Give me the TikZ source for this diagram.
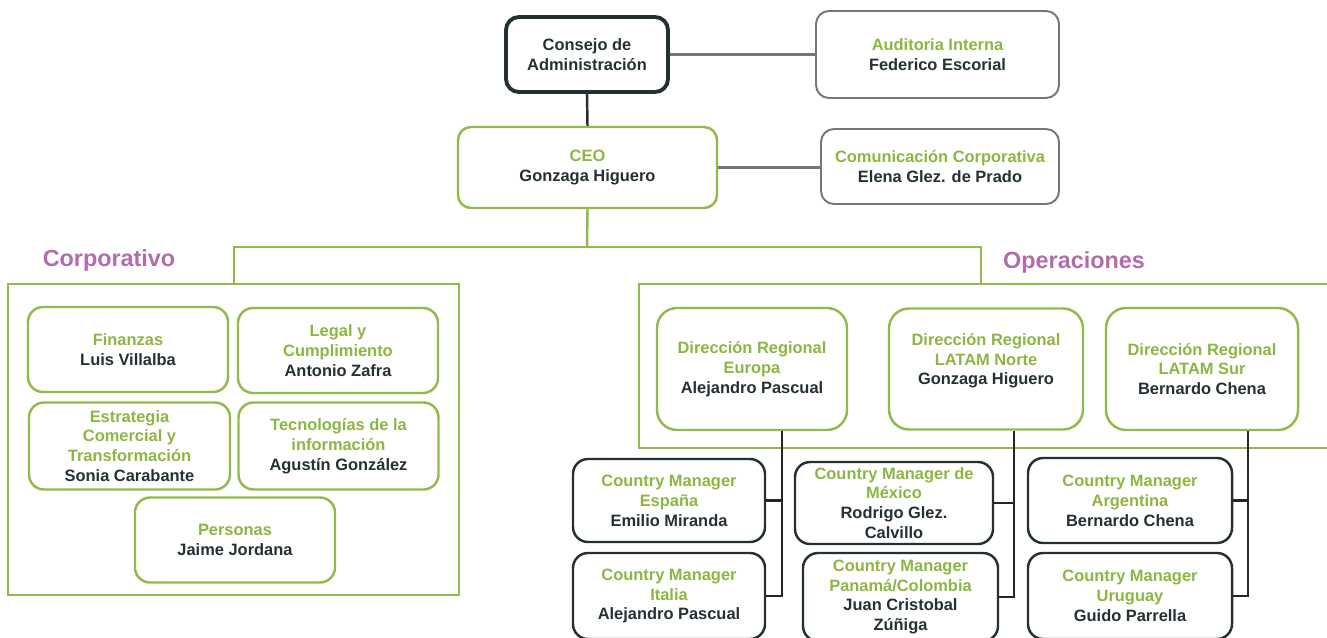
\documentclass[tikz,border=0pt]{standalone}
\usepackage{fontspec}
\setmainfont{Liberation Sans}
\usepackage{tikz}
\definecolor{ogreen}{RGB}{141,181,66}
\definecolor{oframe}{RGB}{146,186,74}
\definecolor{odark}{RGB}{36,48,52}
\definecolor{ogray}{RGB}{112,120,120}
\definecolor{opurple}{RGB}{178,108,170}
\newcommand{\ttl}[1]{\textcolor{ogreen}{#1}}

\begin{document}
\begin{tikzpicture}[x=0.2mm,y=-0.2mm,
  box/.style={rounded corners=2.6mm,align=center,text=odark,inner sep=0pt,
    font=\bfseries\fontsize{9.35}{11.3}\selectfont},
  boardbox/.style={box,draw=odark,line width=2.2pt},
  graybox/.style={box,draw=ogray,line width=1.1pt},
  greenbox/.style={box,draw=oframe,line width=1.4pt,rounded corners=3mm},
  regionbox/.style={box,draw=oframe,line width=1.4pt,rounded corners=4mm,
    minimum width=38.4mm,minimum height=24.4mm},
  countrybox/.style={box,draw=odark,line width=1.4pt,rounded corners=3mm},
  grouplabel/.style={text=opurple,font=\bfseries\fontsize{13.3}{16}\selectfont},
  frame/.style={draw=oframe,line width=1.6pt},
  greenline/.style={draw=oframe,line width=1.4pt},
  grayline/.style={draw=ogray,line width=1.2pt},
  darkline/.style={draw=odark,line width=1.4pt},
  blackline/.style={draw=black!85,line width=1.2pt}]
\clip (0,0) rectangle (1327,637);

% cabecera
\node[boardbox,minimum width=32.4mm,minimum height=15mm] (consejo) at (587,54.5) {Consejo de\\Administración};
\node[graybox,minimum width=48.6mm,minimum height=17.4mm] (auditoria) at (937.5,54.5) {\ttl{Auditoria Interna}\\Federico Escorial};
\node[greenbox,rounded corners=2.6mm,minimum width=51.8mm,minimum height=16.2mm] (ceo) at (587.5,167.5) {\ttl{CEO}\\Gonzaga Higuero};
\node[graybox,minimum width=47.6mm,minimum height=15mm] (comunicacion) at (940,166.5) {\ttl{Comunicación Corporativa}\\Elena Glez. de Prado};
\draw[grayline] (consejo.east) -- (auditoria.west);
\draw[grayline] (ceo.east) -- (ceo.east -| comunicacion.west);
\draw[darkline] (consejo.south) -- (ceo.north);

% areas
\draw[frame] (8,284) rectangle (459,595);
\draw[frame] (639,284) rectangle (1345,448);
\coordinate (split) at (587,247);
\coordinate (corptop) at (234,284);
\coordinate (optop) at (981,284);
\draw[greenline] (ceo.south) -- (split);
\draw[greenline] (corptop) |- (split) -| (optop);
\node[grouplabel] (corplabel) at (109,260) {Corporativo};
\node[grouplabel] (oplabel) at (1074,262) {Operaciones};

% corporativo
\node[greenbox,minimum width=40mm,minimum height=17mm] (finanzas) at (128,349.5) {\ttl{Finanzas}\\Luis Villalba};
\node[greenbox,minimum width=40mm,minimum height=17mm] (legal) at (338,350.5) {\ttl{Legal y}\\\ttl{Cumplimiento}\\Antonio Zafra};
\node[greenbox,minimum width=40.2mm,minimum height=17.4mm] (estrategia) at (129.5,446) {\ttl{Estrategia}\\\ttl{Comercial y}\\\ttl{Transformación}\\Sonia Carabante};
\node[greenbox,minimum width=40mm,minimum height=17.4mm] (tecnologias) at (338.5,446) {\ttl{Tecnologías de la}\\\ttl{información}\\Agustín González};
\node[greenbox,minimum width=40mm,minimum height=17mm] (personas) at (235,540) {\ttl{Personas}\\Jaime Jordana};

% operaciones
\node[regionbox,minimum width=38mm] (europa) at (752,369) {\ttl{Dirección Regional}\\\ttl{Europa}\\Alejandro Pascual};
\node[regionbox,minimum width=38.8mm,minimum height=24.2mm] (norte) at (986,369) {\ttl{Dirección Regional}\\\ttl{LATAM Norte}\\Gonzaga Higuero\\~};
\node[regionbox] (sur) at (1202,369) {\ttl{Dirección Regional}\\\ttl{LATAM Sur}\\Bernardo Chena};

\node[countrybox,minimum width=38.4mm,minimum height=16.6mm] (espana) at (669,500.5) {\ttl{Country Manager}\\\ttl{España}\\Emilio Miranda};
\node[countrybox,minimum width=38.4mm,minimum height=17.2mm] (italia) at (669,596) {\ttl{Country Manager}\\\ttl{Italia}\\Alejandro Pascual};
\node[countrybox,minimum width=39.6mm,minimum height=16.4mm] (mexico) at (894,503) {\ttl{Country Manager de}\\\ttl{México}\\Rodrigo Glez.\\Calvillo};
\node[countrybox,minimum width=39mm,minimum height=17.6mm] (panama) at (900.5,597) {\ttl{Country Manager}\\\ttl{Panamá/Colombia}\\Juan Cristobal\\Zúñiga};
\node[countrybox,minimum width=40.8mm,minimum height=17mm] (argentina) at (1130,500.5) {\ttl{Country Manager}\\\ttl{Argentina}\\Bernardo Chena};
\node[countrybox,minimum width=40.8mm,minimum height=17.2mm] (uruguay) at (1130,596) {\ttl{Country Manager}\\\ttl{Uruguay}\\Guido Parrella};

\coordinate (eubus) at (782,596);
\coordinate (nortebus) at (1014,597);
\coordinate (surbus) at (1248,596);
\draw[blackline] (europa.south -| eubus) -- (eubus) -- (italia.east);
\draw[blackline] (espana.east) -- (espana.east -| eubus);
\draw[blackline] (norte.south -| nortebus) -- (nortebus) -- (panama.east);
\draw[blackline] (mexico.east) -- (mexico.east -| nortebus);
\draw[blackline] (sur.south -| surbus) -- (surbus) -- (uruguay.east);
\draw[blackline] (argentina.east) -- (argentina.east -| surbus);
\end{tikzpicture}
\end{document}
